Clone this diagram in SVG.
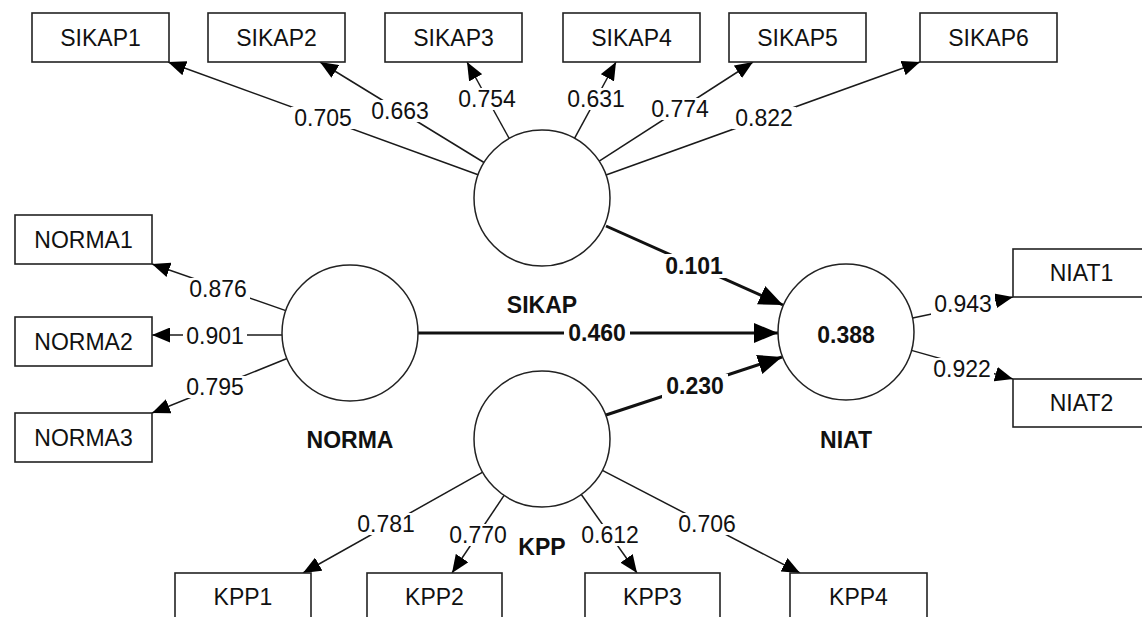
<svg xmlns="http://www.w3.org/2000/svg" width="1142" height="617" viewBox="0 0 1142 617">
<defs>
<marker id="ah" markerUnits="userSpaceOnUse" markerWidth="18" markerHeight="15" refX="18" refY="7.5" orient="auto" viewBox="0 0 18 15">
<path d="M0,0 L18,7.5 L0,15 z" fill="#000"/>
</marker>
<marker id="ahb" markerUnits="userSpaceOnUse" markerWidth="24" markerHeight="20" refX="24" refY="10" orient="auto" viewBox="0 0 24 20">
<path d="M0,0 L24,10 L0,20 z" fill="#000"/>
</marker>
</defs>
<style>
.box{fill:#fff;stroke:#222;stroke-width:1.6}
.lv{fill:#fff;stroke:#222;stroke-width:1.5}
.t{font-family:"Liberation Sans",Arial,sans-serif;font-size:23px;fill:#111;text-anchor:middle}
.b{font-family:"Liberation Sans",Arial,sans-serif;font-size:23px;font-weight:bold;fill:#111;text-anchor:middle}
.ld{stroke:#1a1a1a;stroke-width:1.5;fill:none;marker-end:url(#ah)}
.st{stroke:#111;stroke-width:3;fill:none;marker-end:url(#ahb)}
.bg{fill:#fff}
</style>
<rect width="1142" height="617" fill="#fff"/>
<g id="connectors">
<line class="ld" x1="478.1" y1="174.8" x2="168" y2="62"/>
<line class="ld" x1="484" y1="162.5" x2="320" y2="62"/>
<line class="ld" x1="509.2" y1="138.5" x2="467" y2="62"/>
<line class="ld" x1="574.5" y1="138.3" x2="616" y2="62"/>
<line class="ld" x1="599.2" y1="161.2" x2="753" y2="62"/>
<line class="ld" x1="606" y1="175" x2="920" y2="62"/>
<line class="ld" x1="285.8" y1="310.6" x2="152" y2="264"/>
<line class="ld" x1="282" y1="335" x2="152" y2="335"/>
<line class="ld" x1="287" y1="358.5" x2="152" y2="413"/>
<line class="ld" x1="912.6" y1="318.1" x2="1013" y2="297"/>
<line class="ld" x1="911.5" y1="350.4" x2="1013" y2="379"/>
<line class="ld" x1="482.7" y1="472.2" x2="303" y2="573"/>
<line class="ld" x1="504.1" y1="495.4" x2="452" y2="573"/>
<line class="ld" x1="581.3" y1="494.5" x2="637" y2="573"/>
<line class="ld" x1="602.4" y1="470.3" x2="800" y2="573"/>
<line class="st" x1="606" y1="226" x2="783" y2="305"/>
<line class="st" x1="418" y1="333" x2="778" y2="333"/>
<line class="st" x1="606" y1="415" x2="782" y2="357"/>
<g id="connector-labels">
<rect class="bg" x="291" y="107" width="64" height="22"/><text class="t" x="323" y="126">0.705</text>
<rect class="bg" x="368" y="100" width="64" height="22"/><text class="t" x="400" y="119">0.663</text>
<rect class="bg" x="455" y="88" width="64" height="22"/><text class="t" x="487" y="107">0.754</text>
<rect class="bg" x="564" y="88" width="64" height="22"/><text class="t" x="596" y="107">0.631</text>
<rect class="bg" x="648" y="98" width="64" height="22"/><text class="t" x="680" y="117">0.774</text>
<rect class="bg" x="732" y="107" width="64" height="22"/><text class="t" x="764" y="126">0.822</text>
<rect class="bg" x="186" y="278" width="64" height="22"/><text class="t" x="218" y="297">0.876</text>
<rect class="bg" x="183" y="325" width="64" height="22"/><text class="t" x="215" y="344">0.901</text>
<rect class="bg" x="183" y="376" width="64" height="22"/><text class="t" x="215" y="395">0.795</text>
<rect class="bg" x="931" y="293" width="64" height="22"/><text class="t" x="963" y="312">0.943</text>
<rect class="bg" x="930" y="358" width="64" height="22"/><text class="t" x="962" y="377">0.922</text>
<rect class="bg" x="354" y="513" width="64" height="22"/><text class="t" x="386" y="532">0.781</text>
<rect class="bg" x="446" y="524" width="64" height="22"/><text class="t" x="478" y="543">0.770</text>
<rect class="bg" x="578" y="524" width="64" height="22"/><text class="t" x="610" y="543">0.612</text>
<rect class="bg" x="675" y="513" width="64" height="22"/><text class="t" x="707" y="532">0.706</text>
<rect class="bg" x="661" y="254" width="66" height="24"/><text class="b" x="694" y="274">0.101</text>
<rect class="bg" x="564" y="321" width="66" height="24"/><text class="b" x="597" y="341">0.460</text>
<rect class="bg" x="662" y="374" width="66" height="24"/><text class="b" x="695" y="394">0.230</text>
</g>
</g>
<g id="SIKAP1"><rect class="box" x="32" y="13" width="137" height="49"/><text class="t" x="100.5" y="45.5">SIKAP1</text></g>
<g id="SIKAP2"><rect class="box" x="208" y="13" width="137" height="49"/><text class="t" x="276.5" y="45.5">SIKAP2</text></g>
<g id="SIKAP3"><rect class="box" x="385" y="13" width="137" height="49"/><text class="t" x="453.5" y="45.5">SIKAP3</text></g>
<g id="SIKAP4"><rect class="box" x="563" y="13" width="137" height="49"/><text class="t" x="631.5" y="45.5">SIKAP4</text></g>
<g id="SIKAP5"><rect class="box" x="729" y="13" width="137" height="49"/><text class="t" x="797.5" y="45.5">SIKAP5</text></g>
<g id="SIKAP6"><rect class="box" x="920" y="13" width="137" height="49"/><text class="t" x="988.5" y="45.5">SIKAP6</text></g>
<g id="NORMA1"><rect class="box" x="15" y="215" width="137" height="49"/><text class="t" x="83.5" y="247.5">NORMA1</text></g>
<g id="NORMA2"><rect class="box" x="15" y="317" width="137" height="49"/><text class="t" x="83.5" y="349.5">NORMA2</text></g>
<g id="NORMA3"><rect class="box" x="15" y="413" width="137" height="49"/><text class="t" x="83.5" y="445.5">NORMA3</text></g>
<g id="NIAT1"><rect class="box" x="1013" y="249" width="137" height="48"/><text class="t" x="1081.5" y="281">NIAT1</text></g>
<g id="NIAT2"><rect class="box" x="1013" y="379" width="137" height="48"/><text class="t" x="1081.5" y="411">NIAT2</text></g>
<g id="KPP1"><rect class="box" x="175" y="573" width="136" height="50"/><text class="t" x="243" y="605">KPP1</text></g>
<g id="KPP2"><rect class="box" x="367" y="573" width="135" height="50"/><text class="t" x="434.5" y="605">KPP2</text></g>
<g id="KPP3"><rect class="box" x="585" y="573" width="135" height="50"/><text class="t" x="652.5" y="605">KPP3</text></g>
<g id="KPP4"><rect class="box" x="790" y="573" width="137" height="50"/><text class="t" x="858.5" y="605">KPP4</text></g>
<g id="SIKAP"><circle class="lv" cx="542" cy="198" r="68"/><text class="b" x="542" y="313">SIKAP</text></g>
<g id="NORMA"><circle class="lv" cx="350" cy="333" r="68"/><text class="b" x="350" y="448">NORMA</text></g>
<g id="NIAT"><circle class="lv" cx="846" cy="332" r="68"/><text class="b" x="846" y="343">0.388</text><text class="b" x="846" y="448">NIAT</text></g>
<g id="KPP"><circle class="lv" cx="542" cy="439" r="68"/><text class="b" x="542" y="555">KPP</text></g>
</svg>
